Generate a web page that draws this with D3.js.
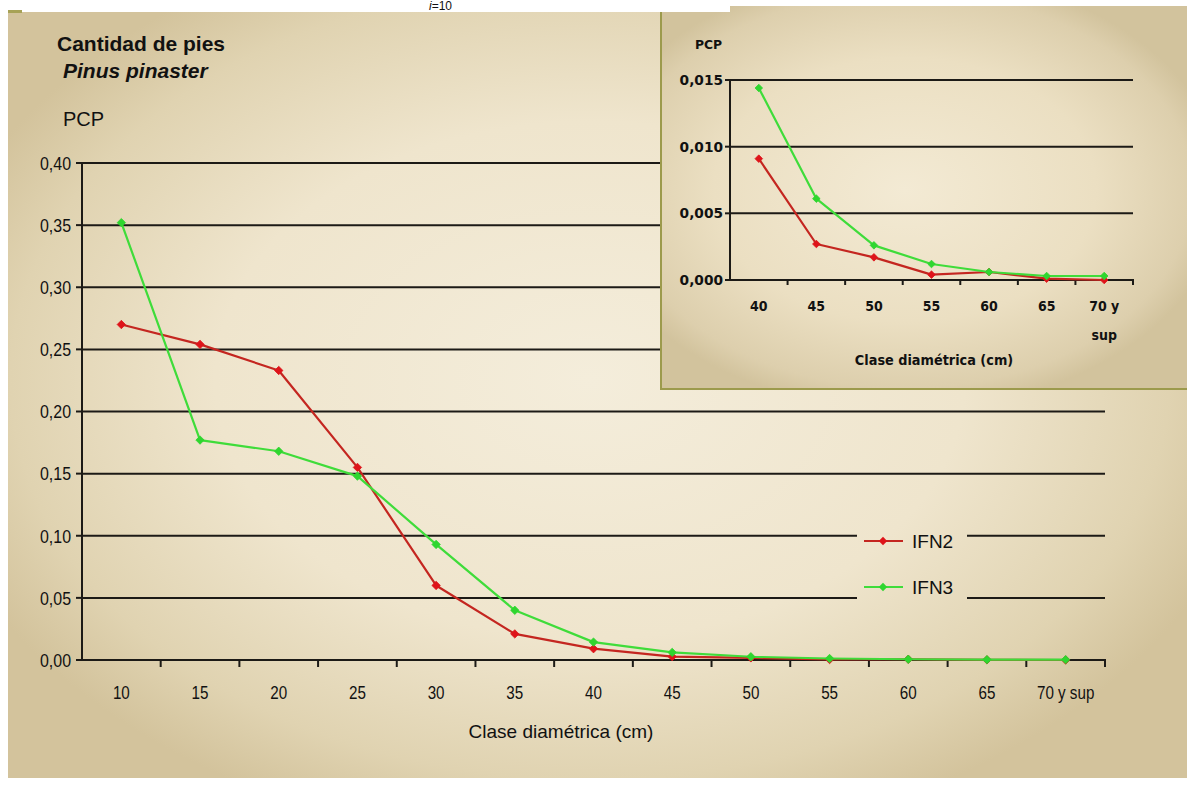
<!DOCTYPE html>
<html>
<head>
<meta charset="utf-8">
<script src="https://cdn.jsdelivr.net/npm/d3@7"></script>
<style>
  html, body { margin: 0; padding: 0; background: #fff; }
  svg { display: block; }
  text { font-family: "Liberation Sans", Arial, sans-serif; fill: #111; }
  .inset text { font-family: "DejaVu Sans", sans-serif; font-weight: bold; }
</style>
</head>
<body>
<svg id="chart" width="1187" height="796"></svg>
<script>
// Diameter classes (cm)
const categories = ["10", "15", "20", "25", "30", "35", "40", "45", "50", "55", "60", "65", "70 y sup"];
// Proportion of stems per class (PCP), second and third national forest inventory
const ifn2 = [0.270, 0.254, 0.233, 0.155, 0.060, 0.021, 0.0091, 0.0027, 0.0017, 0.0004, 0.0006, 0.0001, 0.0000];
const ifn3 = [0.352, 0.177, 0.168, 0.148, 0.093, 0.040, 0.0144, 0.0061, 0.0026, 0.0012, 0.0006, 0.0003, 0.0003];
const mainTicks = [0, 0.05, 0.10, 0.15, 0.20, 0.25, 0.30, 0.35, 0.40];

// Detail of the upper classes
const insetCategories = ["40", "45", "50", "55", "60", "65", "70 y sup"];
const insetTicks = [0, 0.005, 0.010, 0.015];
const insetStart = categories.indexOf("40");

const seriesNames = ["IFN2", "IFN3"];
const seriesColors = { IFN2: { line: "#c42620", dot: "#de141a" }, IFN3: { line: "#3fdc3a", dot: "#2fd62f" } };

const locale = d3.formatLocale({ decimal: ",", thousands: ".", grouping: [3], currency: ["", "€"] });
const fmt2 = locale.format(".2f");
const fmt3 = locale.format(".3f");

const svg = d3.select("#chart");
const defs = svg.append("defs");

function addBg(id, cx, cy, r, stops) {
  const g = defs.append("radialGradient").attr("id", id)
    .attr("gradientUnits", "userSpaceOnUse")
    .attr("cx", cx).attr("cy", cy).attr("r", r)
    .attr("gradientTransform", `translate(${cx},${cy}) scale(1.45,1) translate(${-cx},${-cy})`);
  stops.forEach(s => g.append("stop").attr("offset", s[0]).attr("stop-color", s[1]));
}
addBg("bgMain", 590, 380, 470, [[0, "#f4eddb"], [0.55, "#efe5cd"], [0.85, "#e0d3b1"], [1, "#d3c39c"]]);
addBg("bgInset", 905, 190, 220, [[0, "#f3ead4"], [0.6, "#ebdfc2"], [0.9, "#ddcfad"], [1, "#d2c39d"]]);

// condensed label: horizontal squeeze around its anchor point
function narrowText(sel, x, y, str, size, anchor, squeeze) {
  return sel.append("text")
    .attr("transform", `translate(${x},${y}) scale(${squeeze},1)`)
    .attr("text-anchor", anchor).attr("dy", "0.36em")
    .attr("font-size", size).text(str);
}

// Panel
svg.append("rect").attr("x", 8).attr("y", 12).attr("width", 1179).attr("height", 766).attr("fill", "url(#bgMain)");

// ---------- main chart ----------
const x = d3.scaleBand().domain(categories).range([82, 1105]);
const y = d3.scaleLinear().domain([0, 0.40]).range([660, 163]);
const cx = c => x(c) + x.bandwidth() / 2;

const main = svg.append("g");
main.selectAll("line.grid").data(mainTicks.filter(t => t > 0)).join("line")
  .attr("x1", 82).attr("x2", 1105)
  .attr("y1", d => y(d)).attr("y2", d => y(d))
  .attr("stroke", "#1c1a16").attr("stroke-width", 2);

// legend backdrop interrupts the grid
main.append("rect").attr("x", 857).attr("y", 514).attr("width", 110).attr("height", 98).attr("fill", "url(#bgMain)");

// axes
main.append("line").attr("x1", 82).attr("x2", 82).attr("y1", 162).attr("y2", 661).attr("stroke", "#1c1a16").attr("stroke-width", 2);
main.append("line").attr("x1", 76).attr("x2", 1106).attr("y1", 660).attr("y2", 660).attr("stroke", "#1c1a16").attr("stroke-width", 2);
main.selectAll("line.ytick").data(mainTicks).join("line")
  .attr("x1", 76).attr("x2", 82).attr("y1", d => y(d)).attr("y2", d => y(d))
  .attr("stroke", "#1c1a16").attr("stroke-width", 2);
mainTicks.forEach(t => narrowText(main, 71, y(t), fmt2(t), 19, "end", 0.84));
const bounds = categories.map(c => x(c)).concat([x.range()[1]]);
main.selectAll("line.xtick").data(bounds.slice(1)).join("line")
  .attr("x1", d => d).attr("x2", d => d).attr("y1", 660).attr("y2", 667)
  .attr("stroke", "#1c1a16").attr("stroke-width", 2);
categories.forEach(c => narrowText(main, cx(c), 692, c, 19, "middle", 0.8));
main.append("text").attr("x", 561).attr("y", 738)
  .attr("text-anchor", "middle").attr("font-size", 19).text("Clase diamétrica (cm)");

// titles
svg.append("text").attr("x", 57).attr("y", 51)
  .attr("font-weight", "bold").attr("font-size", 21).text("Cantidad de pies");
svg.append("text").attr("x", 63).attr("y", 78)
  .attr("font-weight", "bold").attr("font-style", "italic").attr("font-size", 21).text("Pinus pinaster");
svg.append("text").attr("x", 63).attr("y", 126).attr("font-size", 20).text("PCP");

function diamond(sel, s) {
  return sel.attr("d", `M0,${-s}L${s},0L0,${s}L${-s},0Z`);
}

function drawSeries(g, xs, ys, cats, data, color, r) {
  const pts = cats.map((c, i) => [xs(c) + xs.bandwidth() / 2, ys(data[i])]);
  g.append("path").attr("d", d3.line()(pts)).attr("fill", "none")
    .attr("stroke", color.line).attr("stroke-width", 2.2).attr("stroke-linejoin", "round");
  g.selectAll(null).data(pts).join("path")
    .attr("transform", p => `translate(${p[0]},${p[1]})`)
    .call(diamond, r).attr("fill", color.dot).attr("stroke", color.dot).attr("stroke-width", 0.8);
}
drawSeries(main, x, y, categories, ifn2, seriesColors.IFN2, 4.2);
drawSeries(main, x, y, categories, ifn3, seriesColors.IFN3, 4.2);

// legend
const legend = svg.append("g");
seriesNames.forEach((name, i) => {
  const ly = 541 + i * 46;
  const col = seriesColors[name];
  legend.append("line").attr("x1", 864).attr("x2", 903).attr("y1", ly).attr("y2", ly)
    .attr("stroke", col.line).attr("stroke-width", 2.2);
  legend.append("path").attr("transform", `translate(883,${ly})`).call(diamond, 4.2).attr("fill", col.dot);
  legend.append("text").attr("x", 912).attr("y", ly).attr("dy", "0.36em")
    .attr("font-size", 19).text(name);
});

// ---------- inset ----------
const inset = svg.append("g").attr("class", "inset");
inset.append("rect").attr("x", 660).attr("y", 6).attr("width", 527).attr("height", 384).attr("fill", "url(#bgInset)");
inset.append("line").attr("x1", 661).attr("x2", 661).attr("y1", 6).attr("y2", 390).attr("stroke", "#9c9a4c").attr("stroke-width", 2);
inset.append("line").attr("x1", 660).attr("x2", 1187).attr("y1", 389).attr("y2", 389).attr("stroke", "#9c9a4c").attr("stroke-width", 2);

const xi = d3.scaleBand().domain(insetCategories).range([730, 1133]);
const yi = d3.scaleLinear().domain([0, 0.015]).range([280, 80]);
inset.selectAll("line.grid").data(insetTicks.filter(t => t > 0)).join("line")
  .attr("x1", 730).attr("x2", 1133).attr("y1", d => yi(d)).attr("y2", d => yi(d))
  .attr("stroke", "#1c1a16").attr("stroke-width", 2);
inset.append("line").attr("x1", 730).attr("x2", 730).attr("y1", 79).attr("y2", 281).attr("stroke", "#1c1a16").attr("stroke-width", 2);
inset.append("line").attr("x1", 725).attr("x2", 1134).attr("y1", 280).attr("y2", 280).attr("stroke", "#1c1a16").attr("stroke-width", 2);
inset.selectAll("line.ytick").data(insetTicks).join("line")
  .attr("x1", 725).attr("x2", 730).attr("y1", d => yi(d)).attr("y2", d => yi(d))
  .attr("stroke", "#1c1a16").attr("stroke-width", 2);
insetTicks.forEach(t => narrowText(inset, 723, yi(t), fmt3(t), 14, "end", 0.98));
const ibounds = insetCategories.map(c => xi(c)).concat([xi.range()[1]]);
inset.selectAll("line.xtick").data(ibounds.slice(1)).join("line")
  .attr("x1", d => d).attr("x2", d => d).attr("y1", 280).attr("y2", 285)
  .attr("stroke", "#1c1a16").attr("stroke-width", 2);
insetCategories.forEach(c => {
  const lines = c === "70 y sup" ? ["70 y", "sup"] : [c];
  lines.forEach((w, i) => narrowText(inset, xi(c) + xi.bandwidth() / 2, 306 + i * 29, w, 14, "middle", 0.9));
});
narrowText(inset, 934, 360, "Clase diamétrica (cm)", 14, "middle", 0.92);
narrowText(inset, 695, 44, "PCP", 13, "start", 0.95);

drawSeries(inset, xi, yi, insetCategories, ifn2.slice(insetStart), seriesColors.IFN2, 3.8);
drawSeries(inset, xi, yi, insetCategories, ifn3.slice(insetStart), seriesColors.IFN3, 3.8);

// top strip with the formula above the panel
svg.append("rect").attr("x", 0).attr("y", 0).attr("width", 730).attr("height", 12).attr("fill", "#fff");
svg.append("rect").attr("x", 8).attr("y", 10).attr("width", 14).attr("height", 3).attr("fill", "#a7a256");
const formula = svg.append("text").attr("x", 429).attr("y", 10)
  .attr("font-family", "Liberation Serif, Times New Roman, serif").attr("font-size", 12);
formula.append("tspan").attr("font-style", "italic").text("i");
formula.append("tspan").text("=10");
svg.append("rect").attr("x", 0).attr("y", 0).attr("width", 8).attr("height", 796).attr("fill", "#fff");
svg.append("rect").attr("x", 0).attr("y", 778).attr("width", 1187).attr("height", 18).attr("fill", "#fff");
</script>
</body>
</html>
